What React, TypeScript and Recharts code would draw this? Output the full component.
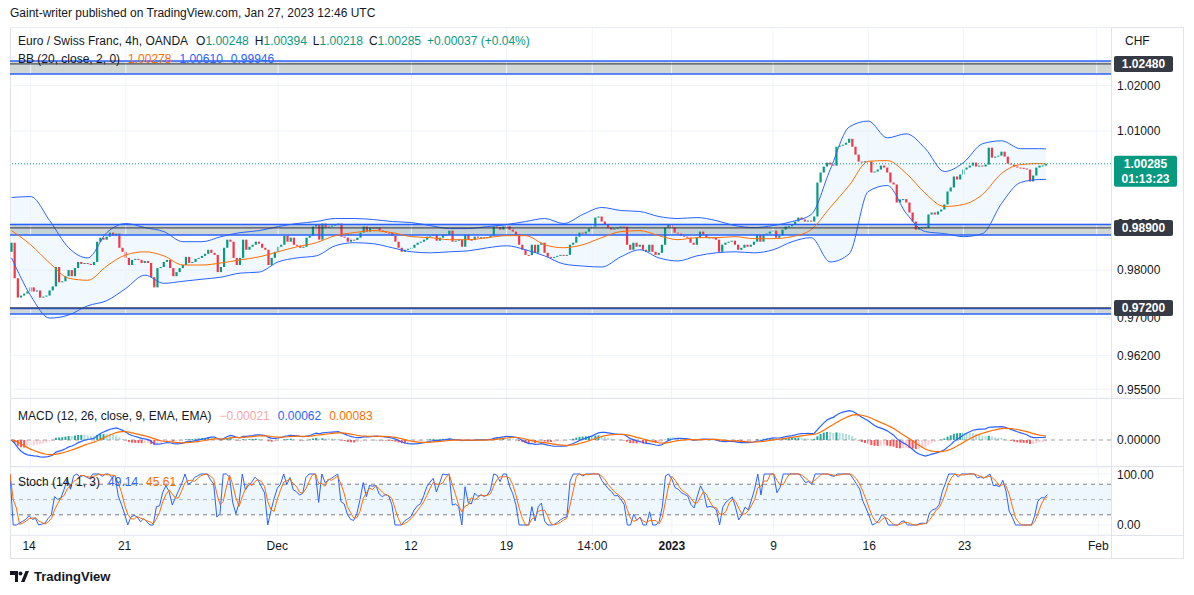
import React from 'react';
import {
  ComposedChart,
  Bar,
  Line,
  Area,
  XAxis,
  YAxis,
  CartesianGrid,
  ReferenceLine,
  ReferenceArea,
} from 'recharts';

// EUR/CHF 4h closes (Nov 11 2022 -> Jan 27 2023 12:00)
const closes = [
  0.98583, 0.97827, 0.97417, 0.9746, 0.97503, 0.97546, 0.97633, 0.97546, 0.97568, 0.97417,
  0.97438, 0.9746, 0.97568, 0.97654, 0.98065, 0.97741, 0.97762, 0.9787, 0.98, 0.9787,
  0.98043, 0.98173, 0.9813, 0.98151, 0.9813, 0.98108, 0.98173, 0.98605, 0.98691, 0.98648,
  0.98713, 0.98799, 0.98734, 0.98778, 0.98475, 0.98389, 0.98259, 0.98108, 0.98216, 0.98238,
  0.98216, 0.98151, 0.98194, 0.98151, 0.97849, 0.97633, 0.98043, 0.98065, 0.98173, 0.98216,
  0.98043, 0.9787, 0.97957, 0.98043, 0.98108, 0.98281, 0.98151, 0.98173, 0.98238, 0.98259,
  0.98302, 0.98346, 0.98432, 0.98367, 0.98324, 0.97957, 0.98065, 0.98475, 0.98648, 0.98605,
  0.98259, 0.98108, 0.98259, 0.98648, 0.98432, 0.98497, 0.9854, 0.98605, 0.98562, 0.98475,
  0.98432, 0.98108, 0.98259, 0.98389, 0.98497, 0.9854, 0.98734, 0.98605, 0.98691, 0.9854,
  0.98518, 0.98475, 0.98497, 0.98691, 0.98734, 0.98929, 0.98972, 0.98648, 0.98994, 0.98907,
  0.98929, 0.9895, 0.98972, 0.98994, 0.98713, 0.98691, 0.98605, 0.98648, 0.9864, 0.98691,
  0.98799, 0.98929, 0.98821, 0.98907, 0.989, 0.98907, 0.98842, 0.98821, 0.98799, 0.9879,
  0.98734, 0.98605, 0.98475, 0.98389, 0.98432, 0.98454, 0.98475, 0.9854, 0.98583, 0.98605,
  0.98648, 0.98713, 0.98734, 0.98756, 0.98626, 0.98691, 0.98756, 0.9875, 0.98842, 0.98605,
  0.98626, 0.98648, 0.98497, 0.98756, 0.98648, 0.9864, 0.98713, 0.98691, 0.987, 0.98691,
  0.987, 0.98734, 0.98929, 0.9892, 0.98864, 0.98929, 0.98935, 0.98864, 0.98821, 0.98756,
  0.9854, 0.98432, 0.98324, 0.98318, 0.9854, 0.98367, 0.9854, 0.98583, 0.98367, 0.98281,
  0.98275, 0.98281, 0.98302, 0.98324, 0.98318, 0.98324, 0.9854, 0.98583, 0.98713, 0.98799,
  0.98778, 0.98821, 0.98886, 0.98929, 0.99123, 0.99145, 0.99037, 0.98972, 0.98907, 0.98864,
  0.98886, 0.98907, 0.98929, 0.98925, 0.9854, 0.98432, 0.98583, 0.98497, 0.9854, 0.98432,
  0.98389, 0.9854, 0.98389, 0.98324, 0.98367, 0.9854, 0.98907, 0.98972, 0.98907, 0.98799,
  0.98778, 0.98734, 0.98713, 0.98691, 0.98583, 0.9854, 0.98691, 0.98821, 0.98756, 0.98691,
  0.98697, 0.98691, 0.98648, 0.98389, 0.9854, 0.98583, 0.98605, 0.98626, 0.9854, 0.98432,
  0.98475, 0.9854, 0.98497, 0.9854, 0.98605, 0.98756, 0.98605, 0.98756, 0.98778, 0.98821,
  0.98842, 0.98691, 0.98734, 0.98864, 0.98929, 0.98935, 0.98972, 0.99037, 0.99123, 0.9908,
  0.99037, 0.99058, 0.99037, 0.99145, 0.99879, 1.00095, 1.00225, 1.00311, 1.00268, 1.00246,
  1.00657, 1.00678, 1.007, 1.00743, 1.0083, 1.00657, 1.00484, 1.00333, 1.00327, 1.0034,
  1.00333, 1.00095, 1.00117, 1.0016, 1.00246, 1.00203, 1.00095, 0.99879, 0.99836, 0.99447,
  0.99512, 0.9952, 0.99447, 0.99231, 0.99037, 0.98864, 0.98907, 0.98915, 0.989, 0.99188,
  0.99231, 0.99188, 0.99253, 0.99296, 0.99404, 0.99685, 0.99771, 1.00009, 0.99944, 1.00052,
  1.0016, 1.00203, 1.00246, 1.00311, 1.00225, 1.00246, 1.00225, 1.00268, 1.00635, 1.00419,
  1.00441, 1.00462, 1.00549, 1.00441, 1.0029, 1.00268, 1.00225, 1.00203, 1.00197, 1.00182,
  1.0016, 0.99901, 1.0003, 1.00203, 1.00246, 1.00248, 1.00285,
];
const firstOpen = 0.98389;

// Bollinger band (20, 2) read at every 6th candle
const bbIndex = [
  0, 6, 12, 18, 24, 30, 36, 42, 48, 54, 60, 66, 72, 78, 84, 90, 96, 102, 108, 114, 120, 126, 132, 138, 144, 150,
  156, 162, 168, 174, 180, 186, 192, 198, 204, 210, 216, 222, 228, 234, 240, 246, 252, 258, 264, 270, 276, 282,
  288, 294, 300, 306, 312, 318, 324, 326,
];
const bbUpper = [
  0.99555, 0.99575, 0.99058, 0.98475, 0.98259, 0.98799, 0.98994, 0.98907, 0.98821, 0.98605,
  0.98605, 0.98713, 0.98799, 0.98842, 0.98929, 0.98994, 0.99037, 0.99102, 0.99102, 0.9908,
  0.99037, 0.99015, 0.9895, 0.98886, 0.98886, 0.98929, 0.98972, 0.99037, 0.99102, 0.98994,
  0.99188, 0.99339, 0.99274, 0.99253, 0.99145, 0.99102, 0.99123, 0.99058, 0.9895, 0.98907,
  0.9895, 0.99037, 0.99188, 1.0016, 1.01089, 1.01218, 1.00851, 1.00938, 1.00614, 1.00117,
  1.00311, 1.00722, 1.00786, 1.00614, 1.00614, 1.0061,
];
const bbMiddle = [
  0.98842, 0.9854, 0.98151, 0.97827, 0.97784, 0.98086, 0.98324, 0.98389, 0.98302, 0.98108,
  0.98108, 0.98151, 0.98216, 0.98281, 0.98389, 0.98497, 0.98583, 0.98734, 0.98799, 0.98842,
  0.98799, 0.98713, 0.98691, 0.98648, 0.98648, 0.98691, 0.98734, 0.98734, 0.9854, 0.98475,
  0.9854, 0.98691, 0.98821, 0.98842, 0.98734, 0.98648, 0.98691, 0.98691, 0.98713, 0.9867,
  0.9867, 0.98713, 0.98864, 0.99339, 0.99815, 1.0034, 1.00354, 1.00074, 0.99642, 0.99361,
  0.99404, 0.9962, 1.00074, 1.00268, 1.0029, 1.00278,
];
const bbLower = [
  0.98259, 0.9746, 0.96985, 0.9705, 0.97244, 0.97352, 0.97611, 0.97892, 0.97719, 0.97762,
  0.97806, 0.97849, 0.97935, 0.97957, 0.98173, 0.98259, 0.98302, 0.98518, 0.98583, 0.98562,
  0.98475, 0.98389, 0.98367, 0.98389, 0.9841, 0.98475, 0.98518, 0.98432, 0.98302, 0.9813,
  0.98086, 0.98065, 0.98281, 0.98432, 0.98259, 0.98194, 0.98302, 0.98367, 0.98389, 0.98367,
  0.98432, 0.98605, 0.98691, 0.98173, 0.98346, 0.99685, 0.99814, 0.9921, 0.98821, 0.98778,
  0.98713, 0.98778, 0.99426, 0.99879, 0.99944, 0.99946,
];

// horizontal zones drawn on the chart
const zoneTop = [1.02545, 0.98976, 0.97189];
const zoneLevel = [1.0248, 0.989, 0.972];
const zoneBottom = [1.02255, 0.98747, 0.97069];

const priceTicks = [1.02, 1.01, 0.99, 0.98, 0.97, 0.962, 0.955];
const lastPrice = 1.00285;

const timeTicks = [6, 36, 84, 126, 156, 183, 208, 240, 270, 300, 342];
const timeLabels = ['14', '21', 'Dec', '12', '19', '14:00', '2023', '9', '16', '23', 'Feb'];

const UP = '#089981';
const DOWN = '#f23645';
const BLUE = '#2962ff';
const ORANGE = '#ff6d00';
const GRID = '#f0f3fa';
const TEXT = '#131722';
const ROWS = 347;
const PRICE_DOMAIN = [0.95319, 1.03304];

const ema = (src: number[], n: number) => {
  const a = 2 / (n + 1);
  const out: number[] = [];
  src.forEach((v, i) => out.push(i === 0 ? v : a * v + (1 - a) * out[i - 1]));
  return out;
};

const opens = closes.map((c, i) => (i === 0 ? firstOpen : closes[i - 1]));
const e12 = ema(closes, 12);
const e26 = ema(closes, 26);
const macd = closes.map((_, i) => e12[i] - e26[i]);
const signal = ema(macd, 9);
const hist = macd.map((m, i) => m - signal[i]);
const highs = closes.map((c, i) => Math.max(c, opens[i]));
const lows = closes.map((c, i) => Math.min(c, opens[i]));
const stochK = closes.map((c, i) => {
  const s = Math.max(0, i - 13);
  const hh = Math.max(...highs.slice(s, i + 1));
  const ll = Math.min(...lows.slice(s, i + 1));
  return hh === ll ? 50 : (100 * (c - ll)) / (hh - ll);
});
const stochD = stochK.map((_, i) => {
  const w = stochK.slice(Math.max(0, i - 2), i + 1);
  return w.reduce((a, b) => a + b, 0) / w.length;
});

const rows = Array.from({ length: ROWS }, (_, i) => {
  const r: any = { i };
  if (i < closes.length) {
    const o = opens[i];
    const c = closes[i];
    r.body = [Math.min(o, c), Math.max(o, c)];
    r.up = c >= o;
    r.macd = macd[i];
    r.signal = signal[i];
    r.hist = hist[i];
    const prev = i > 0 ? hist[i - 1] : hist[i];
    if (hist[i] >= 0) r.histColor = hist[i] >= prev ? '#26a69a' : '#b2dfdb';
    else r.histColor = hist[i] >= prev ? '#ffcdd2' : '#ff5252';
    r.k = stochK[i];
    r.d = stochD[i];
  }
  const j = bbIndex.indexOf(i);
  if (j >= 0) {
    r.bbU = bbUpper[j];
    r.bbM = bbMiddle[j];
    r.bbL = bbLower[j];
    r.bbBand = [bbLower[j], bbUpper[j]];
  }
  return r;
});

const Candle = (p: any) => {
  const { x, y, width, height, payload } = p;
  if (!payload || payload.body == null) return null;
  const cx = x + width / 2;
  const top = Math.min(y, y + height);
  const h = Math.max(Math.abs(height), 1);
  return <rect x={cx - 1.1} y={top} width={2.2} height={h} fill={payload.up ? UP : DOWN} />;
};

const HistBar = (p: any) => {
  const { x, y, width, height, payload } = p;
  if (!payload || payload.hist == null) return null;
  const cx = x + width / 2;
  const top = Math.min(y, y + height);
  return <rect x={cx - 1} y={top} width={2} height={Math.max(Math.abs(height), 0.5)} fill={payload.histColor} />;
};

const AxisTag = (props: any) => {
  const { viewBox, text, sub, bg } = props;
  if (!viewBox) return null;
  const x = viewBox.x + viewBox.width + 3;
  const y = viewBox.y;
  const w = sub ? 63 : 59;
  return (
    <g>
      <rect x={x} y={y - 8} width={w} height={sub ? 31 : 16} rx={2} fill={bg} />
      <text x={x + w / 2} y={y + 4} textAnchor="middle" fill="#fff" fontSize={12} fontWeight={700}>
        {text}
      </text>
      {sub && (
        <text x={x + w / 2} y={y + 19} textAnchor="middle" fill="#fff" fontSize={12} fontWeight={700}>
          {sub}
        </text>
      )}
    </g>
  );
};

const TimeTick = (p: any) => {
  const label = timeLabels[timeTicks.indexOf(p.payload.value)];
  return (
    <text x={p.x} y={p.y + 15} textAnchor="middle" fontSize={12} fill={TEXT} fontWeight={label === '2023' ? 700 : 400}>
      {label}
    </text>
  );
};

const vGrid = timeTicks.map((t) => <ReferenceLine key={'v' + t} x={t} stroke={GRID} />);

const axisTick = { fontSize: 12, fill: TEXT };

const abs = (left: number, top: number): React.CSSProperties => ({ position: 'absolute', left, top });

const chartMargin = { top: 0, right: 0, bottom: 0, left: 0 };

export default function App() {
  return (
    <div
      style={{
        position: 'absolute',
        left: 0,
        top: 0,
        width: 1194,
        height: 595,
        background: '#fff',
        overflow: 'hidden',
        fontFamily: '"Liberation Sans", Arial, sans-serif',
        color: TEXT,
      }}
    >
      <div style={{ ...abs(10, 6), fontSize: 12 }}>
        Gaint-writer published on TradingView.com, Jan 27, 2023 12:46 UTC
      </div>

      {/* frame and pane separators */}
      <div style={{ ...abs(10, 27), width: 1172, height: 530, border: '1px solid #e0e3eb' }} />
      <div style={{ ...abs(10, 398), width: 1174, height: 1, background: '#e0e3eb' }} />
      <div style={{ ...abs(10, 466), width: 1174, height: 1, background: '#e0e3eb' }} />
      <div style={{ ...abs(10, 535), width: 1174, height: 1, background: '#e0e3eb' }} />
      <div style={{ ...abs(1111, 27), width: 1, height: 531, background: '#e0e3eb' }} />

      <div style={abs(10, 27)}>
        <ComposedChart width={1173} height={371} data={rows} margin={chartMargin} barCategoryGap={0}>
          <CartesianGrid stroke={GRID} vertical={false} />
          <XAxis dataKey="i" hide />
          <YAxis
            orientation="right"
            width={72}
            type="number"
            scale="log"
            domain={PRICE_DOMAIN}
            allowDataOverflow
            ticks={priceTicks}
            interval={0}
            tickFormatter={(v: number) => v.toFixed(5)}
            axisLine={false}
            tickLine={false}
            tickSize={0}
            tickMargin={6}
            tick={axisTick}
          />
          {vGrid}
          {zoneTop.map((t, k) => (
            <ReferenceArea key={'za' + k} y1={zoneBottom[k]} y2={t} fill="#c9d0ce" fillOpacity={0.85} stroke="none" />
          ))}
          {zoneTop.map((t, k) => (
            <ReferenceLine key={'zt' + k} y={t} stroke={BLUE} strokeWidth={1.5} />
          ))}
          {zoneBottom.map((b, k) => (
            <ReferenceLine key={'zb' + k} y={b} stroke={BLUE} strokeWidth={1.5} />
          ))}
          <Area
            dataKey="bbBand"
            type="monotone"
            connectNulls
            stroke="none"
            fill="#2196f3"
            fillOpacity={0.06}
            isAnimationActive={false}
          />
          <Line dataKey="bbU" type="monotone" connectNulls stroke={BLUE} strokeWidth={1} dot={false} isAnimationActive={false} />
          <Line dataKey="bbL" type="monotone" connectNulls stroke={BLUE} strokeWidth={1} dot={false} isAnimationActive={false} />
          <Line dataKey="bbM" type="monotone" connectNulls stroke={ORANGE} strokeWidth={1} dot={false} isAnimationActive={false} />
          {zoneLevel.map((l, k) => (
            <ReferenceLine key={'zl' + k} y={l} stroke="#2a2e39" strokeWidth={1} />
          ))}
          <Bar dataKey="body" shape={<Candle />} isAnimationActive={false} />
          <ReferenceLine y={lastPrice} stroke={UP} strokeDasharray="1 2" />
        </ComposedChart>
      </div>

      {/* price-scale tags, drawn over the axis labels */}
      <div style={abs(10, 27)}>
        <ComposedChart width={1173} height={371} data={rows} margin={chartMargin}>
          <XAxis dataKey="i" hide />
          <YAxis
            orientation="right"
            width={72}
            type="number"
            scale="log"
            domain={PRICE_DOMAIN}
            allowDataOverflow
            tick={false}
            axisLine={false}
            tickLine={false}
          />
          {zoneLevel.map((l, k) => (
            <ReferenceLine
              key={'tag' + k}
              y={l}
              stroke="none"
              label={<AxisTag text={l.toFixed(5)} bg="#363a45" />}
            />
          ))}
          <ReferenceLine
            y={lastPrice}
            stroke="none"
            label={<AxisTag text={lastPrice.toFixed(5)} sub="01:13:23" bg={UP} />}
          />
        </ComposedChart>
      </div>

      <div style={abs(10, 399)}>
        <ComposedChart width={1173} height={67} data={rows} margin={chartMargin} barCategoryGap={0}>
          <XAxis dataKey="i" hide />
          <YAxis
            orientation="right"
            width={72}
            type="number"
            domain={[-0.00457, 0.0072]}
            allowDataOverflow
            ticks={[0]}
            tickFormatter={(v: number) => v.toFixed(5)}
            axisLine={false}
            tickLine={false}
            tickSize={0}
            tickMargin={6}
            tick={axisTick}
          />
          {vGrid}
          <ReferenceLine y={0} stroke="#787b86" strokeOpacity={0.7} strokeDasharray="4 4" />
          <Bar dataKey="hist" shape={<HistBar />} isAnimationActive={false} />
          <Line dataKey="macd" stroke={BLUE} strokeWidth={1.2} dot={false} isAnimationActive={false} />
          <Line dataKey="signal" stroke={ORANGE} strokeWidth={1.2} dot={false} isAnimationActive={false} />
        </ComposedChart>
      </div>

      <div style={abs(10, 467)}>
        <ComposedChart width={1173} height={91} data={rows} margin={chartMargin}>
          <CartesianGrid stroke={GRID} vertical={false} />
          <XAxis
            dataKey="i"
            height={23}
            ticks={timeTicks}
            interval={0}
            axisLine={false}
            tickLine={false}
            tickSize={0}
            tickMargin={0}
            tick={<TimeTick />}
          />
          <YAxis
            orientation="right"
            width={72}
            type="number"
            domain={[-19.6, 113.7]}
            allowDataOverflow
            ticks={[0, 100]}
            tickFormatter={(v: number) => v.toFixed(2)}
            axisLine={false}
            tickLine={false}
            tickSize={0}
            tickMargin={6}
            tick={axisTick}
          />
          {vGrid}
          <ReferenceArea y1={20} y2={80} fill="#2196f3" fillOpacity={0.08} stroke="none" />
          <ReferenceLine y={80} stroke="#787b86" strokeDasharray="4 4" />
          <ReferenceLine y={50} stroke="#787b86" strokeOpacity={0.5} strokeDasharray="4 4" />
          <ReferenceLine y={20} stroke="#787b86" strokeDasharray="4 4" />
          <Line dataKey="k" stroke={BLUE} strokeWidth={1} dot={false} isAnimationActive={false} />
          <Line dataKey="d" stroke={ORANGE} strokeWidth={1} dot={false} isAnimationActive={false} />
        </ComposedChart>
      </div>

      {/* legends */}
      <div style={{ ...abs(1125, 34), fontSize: 12 }}>CHF</div>
      <div style={{ ...abs(18, 34), fontSize: 12, whiteSpace: 'nowrap' }}>
        Euro / Swiss Franc, 4h, OANDA
        <span style={{ marginLeft: 8 }}>O</span>
        <span style={{ color: UP }}>1.00248</span>
        <span style={{ marginLeft: 6 }}>H</span>
        <span style={{ color: UP }}>1.00394</span>
        <span style={{ marginLeft: 6 }}>L</span>
        <span style={{ color: UP }}>1.00218</span>
        <span style={{ marginLeft: 6 }}>C</span>
        <span style={{ color: UP }}>1.00285</span>
        <span style={{ color: UP, marginLeft: 6 }}>+0.00037 (+0.04%)</span>
      </div>
      <div style={{ ...abs(18, 52), fontSize: 12, whiteSpace: 'nowrap' }}>
        BB (20, close, 2, 0)
        <span style={{ color: ORANGE, marginLeft: 8 }}>1.00278</span>
        <span style={{ color: BLUE, marginLeft: 8 }}>1.00610</span>
        <span style={{ color: BLUE, marginLeft: 8 }}>0.99946</span>
      </div>
      <div style={{ ...abs(18, 409), fontSize: 12, whiteSpace: 'nowrap' }}>
        MACD (12, 26, close, 9, EMA, EMA)
        <span style={{ color: '#f7a9a9', marginLeft: 8 }}>−0.00021</span>
        <span style={{ color: BLUE, marginLeft: 8 }}>0.00062</span>
        <span style={{ color: ORANGE, marginLeft: 8 }}>0.00083</span>
      </div>
      <div style={{ ...abs(18, 475), fontSize: 12, whiteSpace: 'nowrap' }}>
        Stoch (14, 1, 3)
        <span style={{ color: BLUE, marginLeft: 8 }}>49.14</span>
        <span style={{ color: ORANGE, marginLeft: 8 }}>45.61</span>
      </div>

      {/* footer logo */}
      <div style={{ ...abs(10, 569), display: 'flex', alignItems: 'center' }}>
        <svg width={20} height={14} viewBox="0 0 20 14">
          <path d="M0 1h8v11H5V5H0z" fill={TEXT} />
          <circle cx={10.5} cy={3.5} r={2} fill={TEXT} />
          <path d="M11 12l4.5-11H19l-4.5 11z" fill={TEXT} />
        </svg>
        <span style={{ marginLeft: 4, fontSize: 13, fontWeight: 700 }}>TradingView</span>
      </div>
    </div>
  );
}
